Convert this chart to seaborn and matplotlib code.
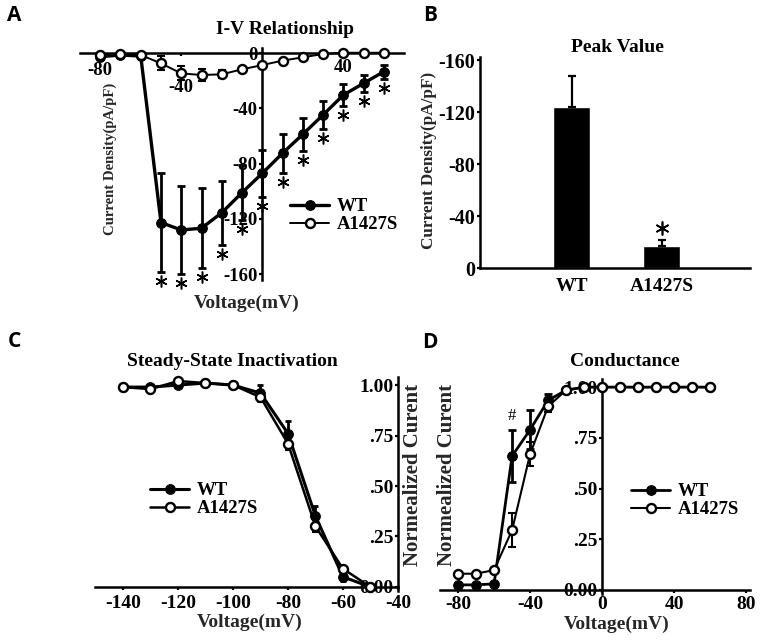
import numpy as np
import matplotlib
matplotlib.use("Agg")
import matplotlib.pyplot as plt
import seaborn as sns

# ---- A: I-V relationship (pA/pF) ----
iv_voltage = [-80, -70, -60, -50, -40, -30, -20, -10, 0, 10, 20, 30, 40, 50, 60]
iv_wt = [-2.7, -1.4, -2.2, -122.6, -128.0, -126.7, -115.5, -101.0, -87.0, -72.5, -58.8, -44.8, -30.4, -21.9, -13.5]
iv_wt_err = [0.8, 0.8, 0.8, 35.5, 32.0, 29.0, 23.0, 20.0, 17.0, 14.0, 12.0, 10.0, 8.0, 6.0, 5.0]
iv_mut = [-1.4, -0.7, -1.4, -7.5, -14.7, -15.9, -15.4, -11.8, -8.7, -5.5, -3.1, -0.7, 0.2, 0.2, 0.2]
iv_mut_err = [0.5, 0.5, 0.5, 5.0, 5.0, 4.5, 3.0, 2.0, 1.5, 1.0, 1.0, 0.5, 0.5, 0.5, 0.5]
iv_star_voltage = [-50, -40, -30, -20, -10, 0, 10, 20, 30, 40, 50, 60]
iv_yticks = [0, -40, -80, -120, -160]
iv_xticks = [-80, -40, 40]

# ---- B: peak current density ----
peak_groups = ["WT", "A1427S"]
peak_mean = [-124.0, -17.5]
peak_err = [24.0, 4.3]
peak_yticks = [0, -40, -80, -120, -160]

# ---- C: steady-state inactivation ----
ssi_voltage = [-140, -130, -120, -110, -100, -90, -80, -70, -60, -50]
ssi_wt = [0.99, 0.99, 1.00, 1.01, 1.00, 0.96, 0.76, 0.35, 0.05, 0.0]
ssi_wt_err = [0.01, 0.01, 0.01, 0.01, 0.01, 0.04, 0.06, 0.05, 0.02, 0.0]
ssi_mut = [0.99, 0.98, 1.02, 1.01, 1.00, 0.94, 0.71, 0.30, 0.09, 0.0]
ssi_mut_err = [0.01, 0.01, 0.01, 0.01, 0.01, 0.02, 0.03, 0.03, 0.01, 0.0]
ssi_xticks = [-140, -120, -100, -80, -60, -40]

# ---- D: conductance ----
g_voltage = [-80, -70, -60, -50, -40, -30, -20, -10, 0, 10, 20, 30, 40, 50, 60]
g_wt = [0.025, 0.025, 0.03, 0.66, 0.79, 0.935, 0.985, 1.0, 1.0, 1.0, 1.0, 1.0, 1.0, 1.0, 1.0]
g_wt_err = [0.01, 0.01, 0.01, 0.13, 0.095, 0.03, 0.01, 0.0, 0.0, 0.0, 0.0, 0.0, 0.0, 0.0, 0.0]
g_mut = [0.08, 0.08, 0.098, 0.295, 0.67, 0.905, 0.985, 1.0, 1.0, 1.0, 1.0, 1.0, 1.0, 1.0, 1.0]
g_mut_err = [0.01, 0.01, 0.01, 0.085, 0.06, 0.03, 0.01, 0.0, 0.0, 0.0, 0.0, 0.0, 0.0, 0.0, 0.0]
g_hash_voltage = [-50]
g_xticks = [-80, -40, 0, 40, 80]

norm_yticks = [0, 0.25, 0.5, 0.75, 1.0]
norm_ylabels = ["0.00", ".25", ".50", ".75", "1.00"]

sns.set_style("ticks")
plt.rcParams["font.family"] = ["Liberation Serif", "DejaVu Serif"]
plt.rcParams["font.weight"] = "bold"
plt.rcParams["axes.labelweight"] = "bold"
plt.rcParams["axes.unicode_minus"] = False
plt.rcParams["axes.edgecolor"] = "black"
plt.rcParams["axes.linewidth"] = 1.8
plt.rcParams["xtick.color"] = "black"
plt.rcParams["ytick.color"] = "black"
plt.rcParams["text.color"] = "black"
plt.rcParams["xtick.major.width"] = 1.6
plt.rcParams["ytick.major.width"] = 1.6
plt.rcParams["xtick.major.size"] = 2.5
plt.rcParams["ytick.major.size"] = 2.5

W, H = 764, 641
fig = plt.figure(figsize=(W / 100, H / 100), dpi=100)


def px_axes(left, top, right, bottom):
    return fig.add_axes([left / W, 1 - bottom / H, (right - left) / W, (bottom - top) / H])


def px_text(x, y, s, **kw):
    fig.text(x / W, 1 - y / H, s, ha="center", va="center", **kw)


def draw_pair(ax, x, wt, wt_err, mut, mut_err, lw_wt, lw_mut, cap=3):
    ax.errorbar(x, wt, yerr=wt_err, fmt="none", ecolor="black", elinewidth=2,
                capsize=cap, capthick=2, zorder=2, clip_on=False)
    ax.errorbar(x, mut, yerr=mut_err, fmt="none", ecolor="black", elinewidth=1.5,
                capsize=cap, capthick=1.5, zorder=2, clip_on=False)
    sns.lineplot(x=x, y=wt, ax=ax, color="black", lw=lw_wt, marker="o", ms=7,
                 mfc="black", mec="black", label="WT", zorder=3, clip_on=False)
    sns.lineplot(x=x, y=mut, ax=ax, color="black", lw=lw_mut, marker="o", ms=6.5,
                 mfc="white", mec="black", mew=1.7, label="A1427S", zorder=4, clip_on=False)


def pair_legend(ax, x, y):
    handles, labels = ax.get_legend_handles_labels()
    ax.legend(handles, labels, loc="upper left", bbox_to_anchor=(x / W, 1 - y / H),
              bbox_transform=fig.transFigure, frameon=False, fontsize=13.5,
              handlelength=2.1, handletextpad=0.4, labelspacing=0.05,
              borderpad=0, borderaxespad=0)


tick_font = 14

# ---------------- A ----------------
ax = px_axes(80, 47.5, 404, 279.8)
draw_pair(ax, iv_voltage, iv_wt, iv_wt_err, iv_mut, iv_mut_err, 2.4, 1.4)
star_idx = [iv_voltage.index(v) for v in iv_star_voltage]
star_y = np.array(iv_wt)[star_idx] - np.array(iv_wt_err)[star_idx] - 6.5
ax.plot(iv_star_voltage, star_y, ls="none", marker=(6, 2, 0), ms=8.5, mew=1.1,
        color="black", clip_on=False)
ax.set_xlim(-90, 70)
ax.set_ylim(-164, 4)
sns.despine(ax=ax)
ax.spines["left"].set_position(("data", 0))
ax.spines["bottom"].set_position(("data", 0))
ax.set_yticks(iv_yticks)
ax.set_yticklabels([str(v) for v in iv_yticks])
ax.set_xticks(iv_xticks)
ax.set_xticklabels([str(v) for v in iv_xticks])
ax.tick_params(labelsize=13.5, pad=1)
for tick, pad in zip(ax.xaxis.get_major_ticks(), [4, 16, 2]):
    tick.set_pad(pad)
ax.set_xlabel("Voltage(mV)", fontsize=14)
ax.xaxis.label.set_va("center")
ax.xaxis.set_label_coords(0.515, -0.10)
ax.set_ylabel("Current Density(pA/pF)", fontsize=10.6)
ax.yaxis.label.set_va("center")
ax.yaxis.set_label_coords(0.093, 0.52)
pair_legend(ax, 290, 198)
px_text(285, 30, "I-V Relationship", fontsize=14, fontweight="bold")

# ---------------- B ----------------
ax = px_axes(480, 57.4, 750, 268.3)
sns.barplot(x=peak_groups, y=peak_mean, color="black", width=0.41, ax=ax,
            errorbar=None, saturation=1)
ax.errorbar([0, 1], peak_mean, yerr=[peak_err, [0, 0]], fmt="none",
            ecolor="black", elinewidth=1.6, capsize=3, capthick=1.6, clip_on=False)
ax.plot([1], [peak_mean[1] - peak_err[1] - 9], ls="none", marker=(6, 2, 0),
        ms=10, mew=1.2, color="black")
ax.set_xlim(-1.02, 1.98)
ax.set_ylim(0, -162)
sns.despine(ax=ax)
ax.set_yticks(peak_yticks)
ax.set_yticklabels([str(v) for v in peak_yticks])
ax.tick_params(axis="y", labelsize=14.5, pad=1)
ax.tick_params(axis="x", labelsize=14, length=0, pad=7)
ax.set_ylabel("Current Density(pA/pF)", fontsize=12.3)
ax.yaxis.label.set_va("center")
ax.yaxis.set_label_coords(-0.19, 0.513)
px_text(617, 47, "Peak Value", fontsize=14, fontweight="bold")

# ---------------- C ----------------
ax = px_axes(95.5, 377, 398, 591)
draw_pair(ax, ssi_voltage, ssi_wt, ssi_wt_err, ssi_mut, ssi_mut_err, 2.2, 1.8, cap=2)
ax.set_xlim(-150, -40)
ax.set_ylim(-0.02, 1.04)
sns.despine(ax=ax)
ax.spines["left"].set_position(("axes", 1.0))
ax.spines["bottom"].set_position(("data", 0))
ax.set_xticks(ssi_xticks)
ax.set_xticklabels([str(v) for v in ssi_xticks])
ax.set_yticks(norm_yticks)
ax.set_yticklabels(norm_ylabels)
ax.tick_params(labelsize=tick_font, pad=1)
ax.tick_params(axis="x", pad=3)
ax.set_xlabel("Voltage(mV)", fontsize=14)
ax.xaxis.label.set_va("center")
ax.xaxis.set_label_coords(0.511, -0.145)
ax.set_ylabel("Normealized Curent", fontsize=15)
ax.yaxis.label.set_va("center")
ax.yaxis.set_label_coords(1.05, 0.542)
pair_legend(ax, 150, 482)
px_text(232, 362, "Steady-State Inactivation", fontsize=14, fontweight="bold")

# ---------------- D ----------------
ax = px_axes(440, 379, 750, 594)
draw_pair(ax, g_voltage, g_wt, g_wt_err, g_mut, g_mut_err, 2.0, 1.5)
hash_idx = [g_voltage.index(v) for v in g_hash_voltage]
for i in hash_idx:
    ax.text(g_voltage[i], g_wt[i] + g_wt_err[i] + 0.07, "#", ha="center", va="center",
            fontsize=12, fontweight="normal")
ax.set_xlim(-90, 82)
ax.set_ylim(-0.02, 1.04)
sns.despine(ax=ax)
ax.spines["left"].set_position(("data", 0))
ax.spines["bottom"].set_position(("data", 0))
ax.set_xticks(g_xticks)
ax.set_xticklabels([str(v) for v in g_xticks])
ax.set_yticks(norm_yticks)
ax.set_yticklabels(norm_ylabels)
ax.tick_params(labelsize=tick_font, pad=1)
ax.tick_params(axis="x", pad=2)
ax.set_xlabel("Voltage(mV)", fontsize=14)
ax.xaxis.label.set_va("center")
ax.xaxis.set_label_coords(0.571, -0.14)
ax.set_ylabel("Normealized Curent", fontsize=15)
ax.yaxis.label.set_va("center")
ax.yaxis.set_label_coords(0.023, 0.553)
pair_legend(ax, 631, 483)
px_text(625, 362, "Conductance", fontsize=14, fontweight="bold")

# panel letters
for (x, y), letter in zip([(14.5, 15.5), (430, 15.5), (14.5, 341.5), (430, 343)], "ABCD"):
    px_text(x, y, letter, fontsize=15, fontweight="bold", family=["Open Sans", "DejaVu Sans"])

fig.savefig("out.png", dpi=100)
